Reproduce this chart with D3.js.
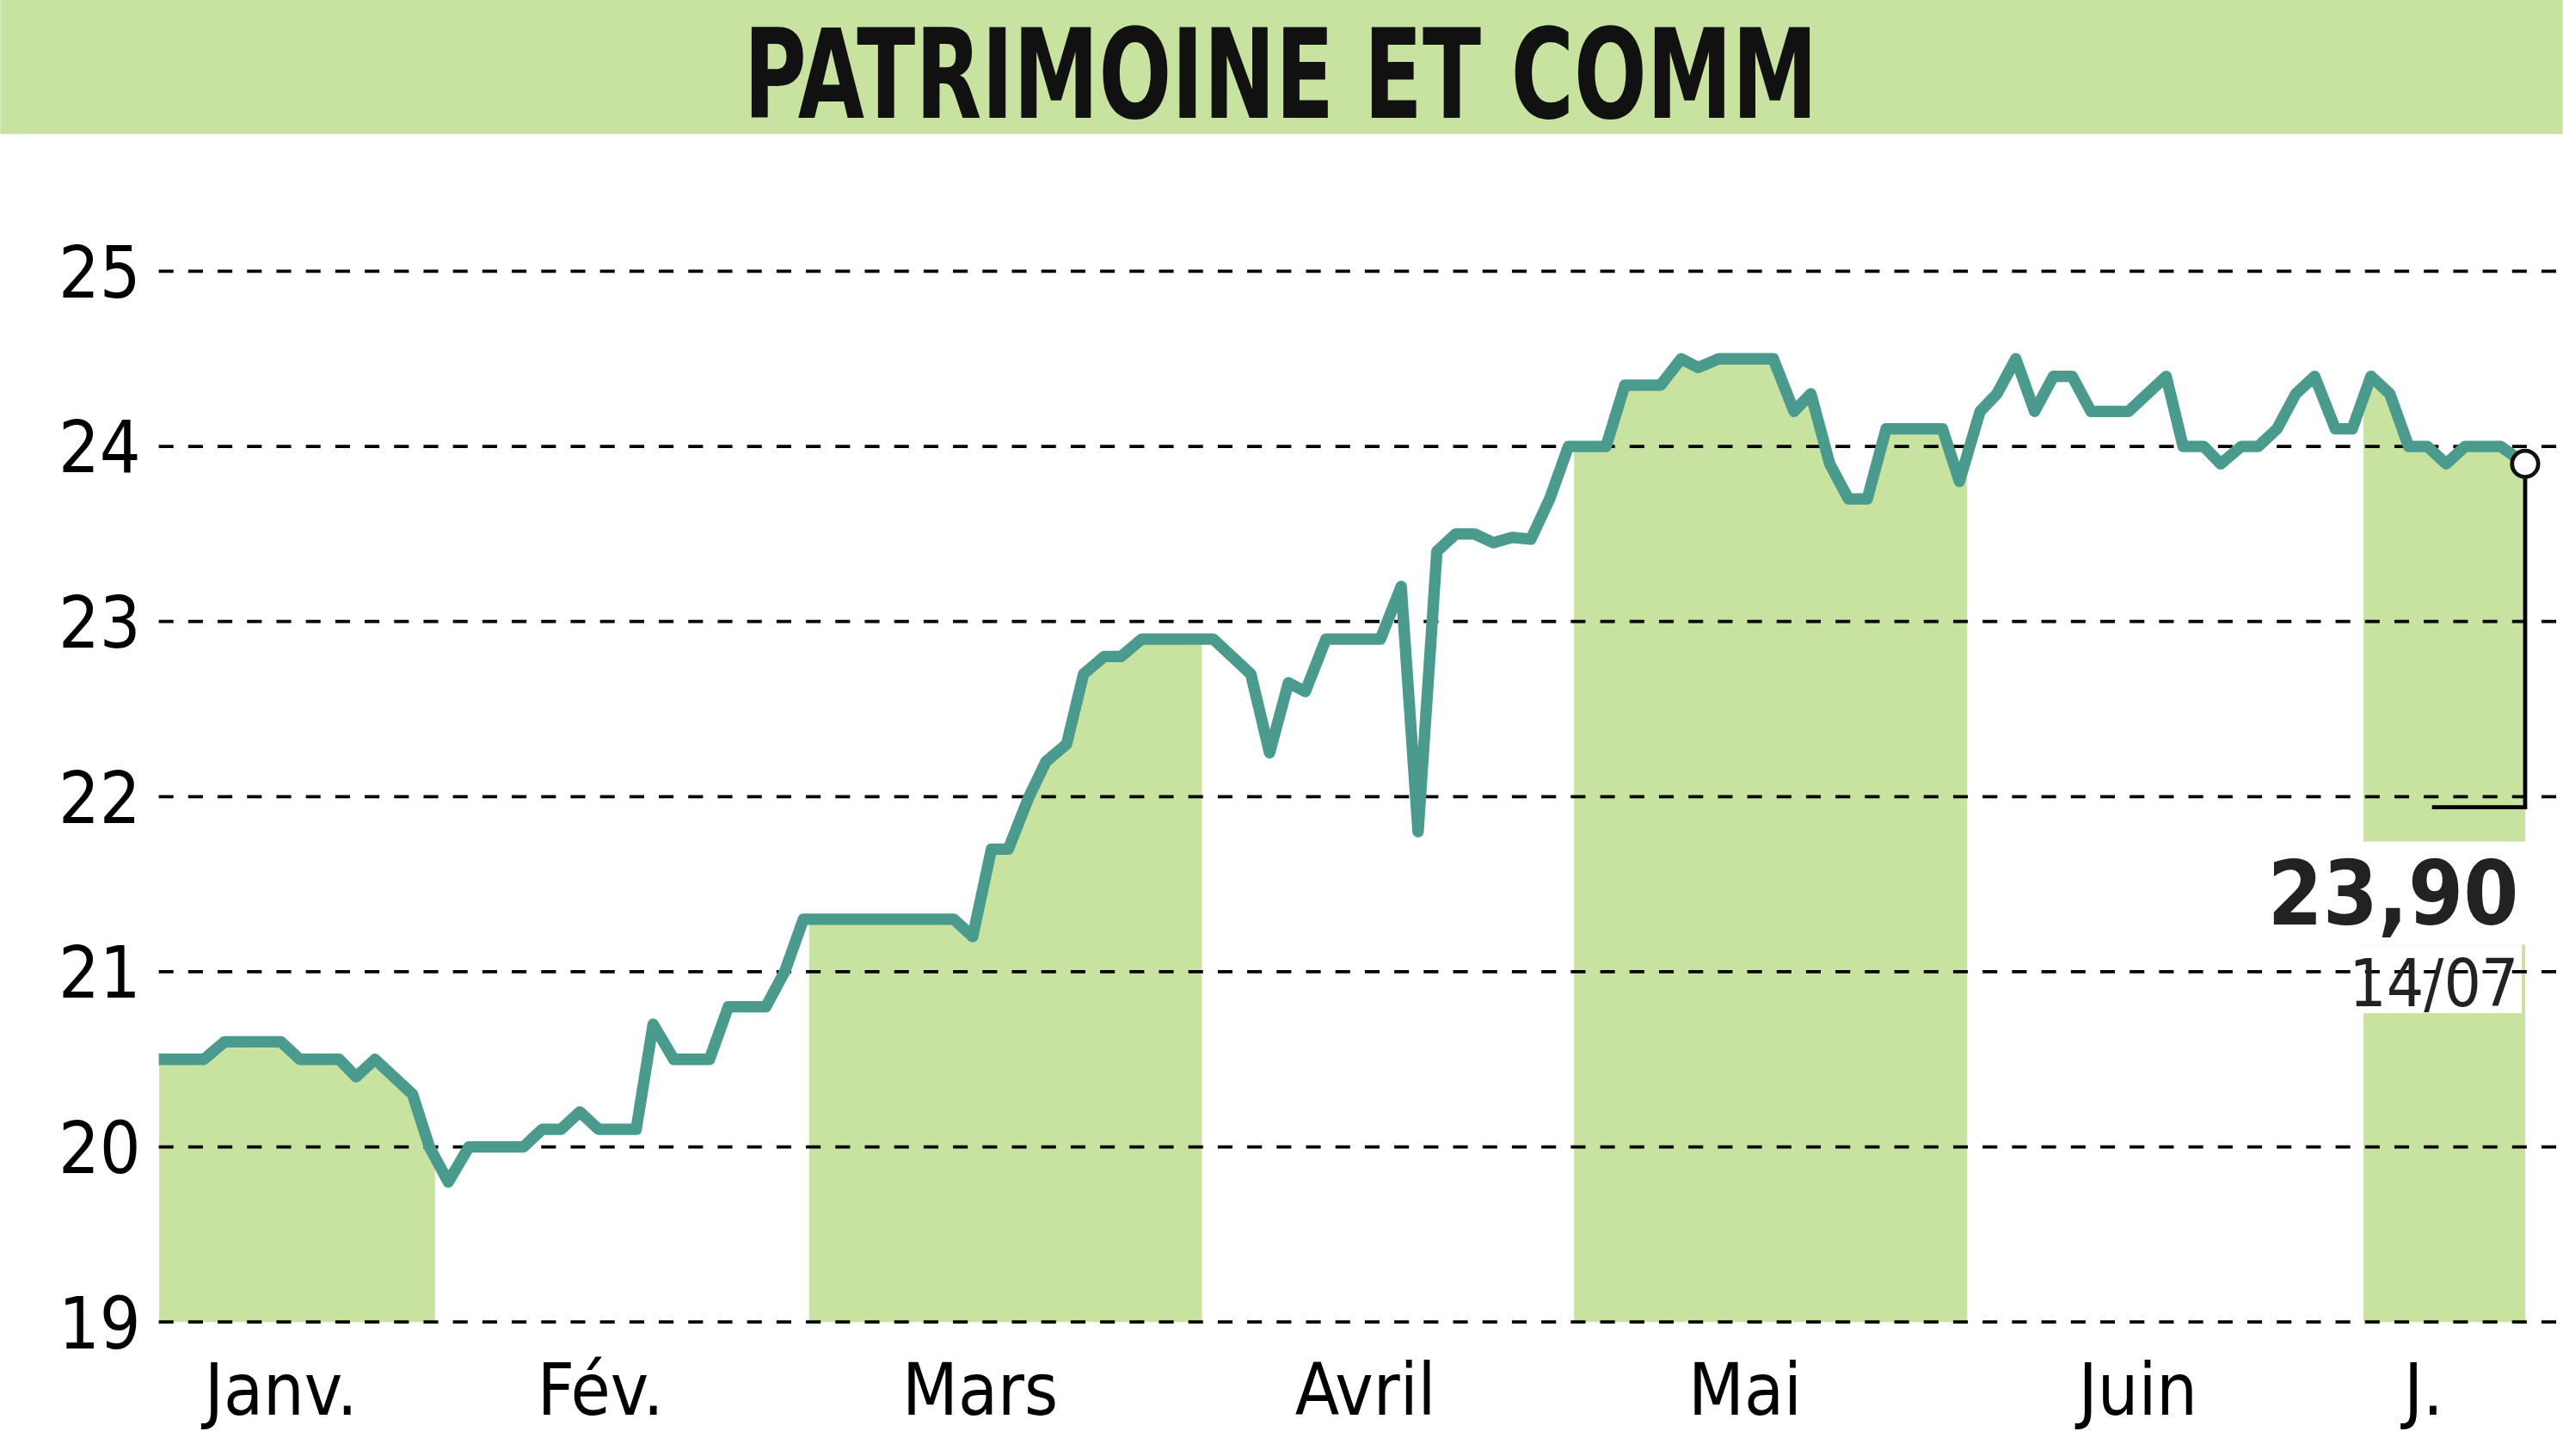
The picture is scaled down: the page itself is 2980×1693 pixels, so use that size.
<!DOCTYPE html>
<html><head><meta charset="utf-8">
<script src="https://cdn.jsdelivr.net/npm/d3@7"></script>
<style>body{margin:0;background:#fff}text{font-family:"DejaVu Sans Condensed","DejaVu Sans";font-stretch:condensed}</style>
</head><body>
<script>
const title = "PATRIMOINE ET COMM";
const days = [0,2.4,3.5,6.5,7.5,9.6,10.5,11.5,13.5,14.4,15.4,16.5,19.4,20.4,21.4,22.4,23.4,25.4,26.3,27.4,29.3,30.3,32.3,33.3,34.3,42.3,43.3,44.3,45.2,46.3,47.2,48.3,49.2,50.3,51.2,52.3,56.1,57.1,58.1,59.1,60.1,61.0,62.1,65.0,66.1,67.0,68.0,69.0,70.0,71.0,72.0,73.0,74.0,75.0,77.0,78.0,79.9,81.0,81.9,83.0,85.9,87.0,87.9,88.9,89.9,90.9,91.9,94.9,95.8,96.9,97.8,98.8,99.8,100.8,101.8,102.8,104.8,106.8,107.7,108.8,109.7,110.8,111.7,112.7,113.7,114.7,115.8,116.7,117.7,118.7,119.7,120.7,121.7,122.7,124.6,125.9];
const prices = [20.5,20.5,20.6,20.6,20.5,20.5,20.4,20.5,20.3,20.0,19.8,20.0,20.0,20.1,20.1,20.2,20.1,20.1,20.7,20.5,20.5,20.8,20.8,21.0,21.3,21.3,21.2,21.7,21.7,22.0,22.2,22.3,22.7,22.8,22.8,22.9,22.9,22.8,22.7,22.25,22.65,22.6,22.9,22.9,23.2,21.8,23.4,23.5,23.5,23.45,23.48,23.47,23.7,24.0,24.0,24.35,24.35,24.5,24.45,24.5,24.5,24.2,24.3,23.9,23.7,23.7,24.1,24.1,23.8,24.2,24.3,24.5,24.2,24.4,24.4,24.2,24.2,24.4,24.0,24.0,23.9,24.0,24.0,24.1,24.3,24.4,24.1,24.1,24.4,24.3,24.0,24.0,23.9,24.0,24.0,23.9];
const yTicks = [19,20,21,22,23,24,25];
const months = ["Janv.","Fév.","Mars","Avril","Mai","Juin","J."];
const monthPos = [6.5,23.5,43.7,64.2,84.4,105.3,120.5];
const bands = [[0,14.7],[34.6,55.5],[75.3,96.2],[117.3,125.9]];
const lastLabel = "23,90", lastDate = "14/07";

const W = 1568, H = 891;
const svg = d3.select("body").append("svg").attr("width", 2980).attr("height", 1693).attr("viewBox", `0 0 ${W} ${H}`);
const x = d3.scaleLinear().domain([0, 125.9]).range([97, 1545]);
const y = d3.scaleLinear().domain([19, 25]).range([809, 166]);
const pts = days.map((d, i) => ({ d, v: prices[i] }));

svg.append("rect").attr("width", W).attr("height", 82).attr("fill", "#c8e29f");
svg.append("text").attr("x", 455).attr("y", 72).attr("textLength", 657).attr("lengthAdjust", "spacingAndGlyphs")
  .attr("font-size", 76).attr("font-weight", "bold").attr("fill", "#111").text(title);

// green bands: area under the line clipped to band ranges
const defs = svg.append("defs");
const clip = defs.append("clipPath").attr("id", "bands");
bands.forEach(b => clip.append("rect").attr("x", x(b[0])).attr("width", x(b[1]) - x(b[0])).attr("y", 0).attr("height", H));
const area = d3.area().x(d => x(d.d)).y0(y(19)).y1(d => y(d.v));
svg.append("path").datum(pts).attr("d", area).attr("fill", "#c8e29f").attr("clip-path", "url(#bands)");

// white box behind last value label
svg.append("rect").attr("x", 1440).attr("y", 515).attr("width", 115).attr("height", 63).attr("fill", "#fff");
svg.append("rect").attr("x", 1440).attr("y", 578).attr("width", 103).attr("height", 42).attr("fill", "#fff");

// grid
svg.append("g").selectAll("line").data(yTicks).join("line")
  .attr("x1", 97).attr("x2", W).attr("y1", d => y(d)).attr("y2", d => y(d))
  .attr("stroke", "#000").attr("stroke-width", 2).attr("stroke-dasharray", "9,9");
svg.append("g").selectAll("text").data(yTicks).join("text")
  .attr("x", 86).attr("y", d => y(d) + 16).attr("text-anchor", "end").attr("font-size", 44).text(d => d);

svg.append("g").selectAll("text").data(months).join("text")
  .attr("x", (d, i) => x(monthPos[i])).attr("y", 866).attr("text-anchor", "middle").attr("font-size", 44).text(d => d);

svg.append("path").datum(pts).attr("d", d3.line().x(d => x(d.d)).y(d => y(d.v)))
  .attr("fill", "none").attr("stroke", "#4a9a8e").attr("stroke-width", 7).attr("stroke-linejoin", "round");

const last = pts[pts.length - 1];
svg.append("path").attr("d", `M${x(last.d)},${y(last.v)}V494H1488`).attr("fill", "none").attr("stroke", "#000").attr("stroke-width", 2.5);
svg.append("circle").attr("cx", x(last.d)).attr("cy", y(last.v)).attr("r", 8).attr("fill", "#fff").attr("stroke", "#111").attr("stroke-width", 2.5);
svg.append("text").attr("x", 1541).attr("y", 566).attr("text-anchor", "end").attr("font-size", 54).attr("font-weight", "bold").attr("fill", "#222").text(lastLabel);
svg.append("text").attr("x", 1541).attr("y", 616).attr("text-anchor", "end").attr("font-size", 40).attr("fill", "#222").text(lastDate);
</script>
</body></html>
